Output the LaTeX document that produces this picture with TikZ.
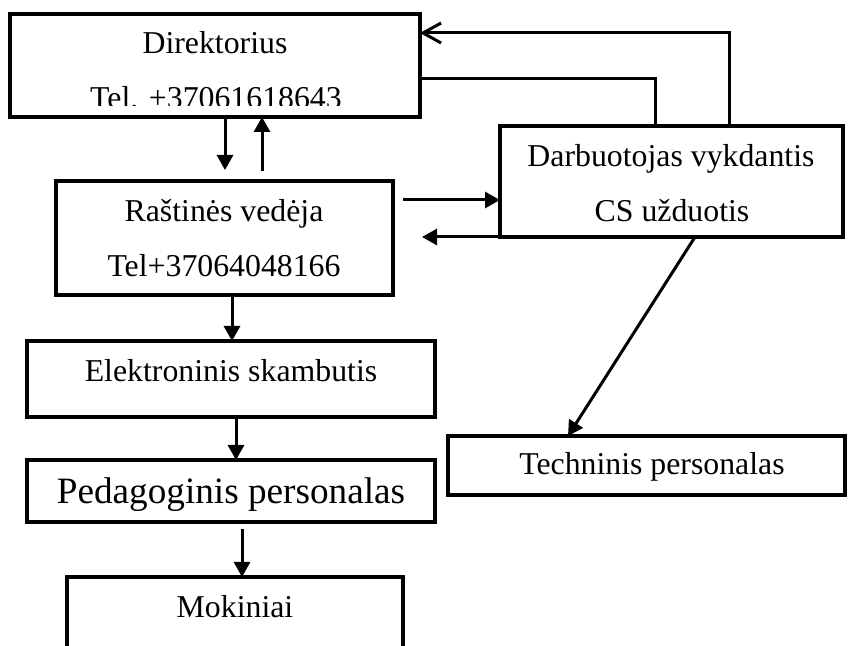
\documentclass[tikz,border=0pt]{standalone}
\usepackage{fontspec}
\setmainfont{Liberation Serif}
\usetikzlibrary{arrows.meta}
\usetikzlibrary{fit}

\tikzset{
    box/.style={draw, line width=1.7pt, inner sep=0pt, outer sep=0pt},
    arr/.style={line width=1.5pt, -{Triangle[length=7.5pt, width=8pt]}},
    barb/.style={line width=1.5pt, -{Straight Barb[length=9pt, width=10pt, line width=1.5pt]}},
    lbl/.style={anchor=base, inner sep=0pt, font=\fontsize{15.9}{19}\selectfont},
}

\begin{document}
\begin{tikzpicture}[x=0.5pt, y=-0.5pt]
    \useasboundingbox (0,0) rectangle (848,646);
    \clip (0,0) rectangle (848,646);

    % box corners
    \coordinate (dirA) at (10,14);    \coordinate (dirB) at (420,117);
    \coordinate (rasA) at (56,181);   \coordinate (rasB) at (393,295);
    \coordinate (darbA) at (500,126); \coordinate (darbB) at (843,237);
    \coordinate (elekA) at (27,341);  \coordinate (elekB) at (435,417);
    \coordinate (pedA) at (27,460);   \coordinate (pedB) at (435,522);
    \coordinate (mokA) at (67,577);   \coordinate (mokB) at (403,700);
    \coordinate (techA) at (448,436); \coordinate (techB) at (845,495);

    % boxes
    \node[box, fit=(dirA)(dirB)] (dir) {};
    \node[box, fit=(rasA)(rasB)] (ras) {};
    \node[box, fit=(darbA)(darbB)] (darb) {};
    \node[box, fit=(elekA)(elekB)] (elek) {};
    \node[box, fit=(pedA)(pedB)] (ped) {};
    \node[box, fit=(mokA)(mokB)] (mok) {};
    \node[box, fit=(techA)(techB)] (tech) {};

    % box texts
    \node[lbl] (dirname) at (215,54) {Direktorius};
    \begin{scope}
        \clip (10,14) rectangle (420,106);
        \node[lbl] (dirtel) at (216,109) {Tel. +37061618643};
    \end{scope}
    \node[lbl] (rasname) at (224,222) {Raštinės vedėja};
    \node[lbl] (rastel) at (224,277) {Tel+37064048166};
    \node[lbl] (darbname) at (671,167) {Darbuotojas vykdantis};
    \node[lbl] (darbtask) at (672,222) {CS užduotis};
    \node[lbl] (elekname) at (231,382) {Elektroninis skambutis};
    \node[lbl, font=\fontsize{18.6}{22}\selectfont] (pedname) at (231,504) {Pedagoginis personalas};
    \node[lbl] (mokname) at (235,618) {Mokiniai};
    \node[lbl] (techname) at (652,475) {Techninis personalas};

    % arrow columns and rows
    \coordinate (x1) at (225,0);
    \coordinate (x2) at (262,0);
    \coordinate (x3) at (232,0);
    \coordinate (x4) at (236,0);
    \coordinate (x5) at (242,0);
    \coordinate (x6) at (729,0);
    \coordinate (x7) at (655,0);
    \coordinate (x8) at (695,0);
    \coordinate (x9) at (568,0);
    \coordinate (y1) at (0,200);
    \coordinate (y2) at (0,33);
    \coordinate (y3) at (0,79);
    \coordinate (back) at (422,0);

    % left column
    \draw[arr, shorten >=5.5pt] (x1 |- dir.south) -- (x1 |- ras.north);
    \draw[arr, shorten <=5pt] (x2 |- ras.north) -- (x2 |- dir.south);
    \draw[arr] (x3 |- ras.south) -- (x3 |- elek.north);
    \draw[arr] (x4 |- elek.south) -- (x4 |- ped.north);
    \draw[arr, shorten <=3.5pt] (x5 |- ped.south) -- (x5 |- mok.north);

    % links with the right box
    \draw[arr, shorten <=5pt] (ras.east |- y1) -- (darb.west |- y1);
    \draw[arr] (darb.south west) -- (back |- darb.south west);
    \draw[barb] (x6 |- darb.north) -- (x6 |- y2) -- (dir.east |- y2);
    \draw[line width=1.5pt] (dir.east |- y3) -- (x7 |- y3) -- (x7 |- darb.north);
    \draw[arr] (x8 |- darb.south) -- (x9 |- tech.north);
\end{tikzpicture}
\end{document}
